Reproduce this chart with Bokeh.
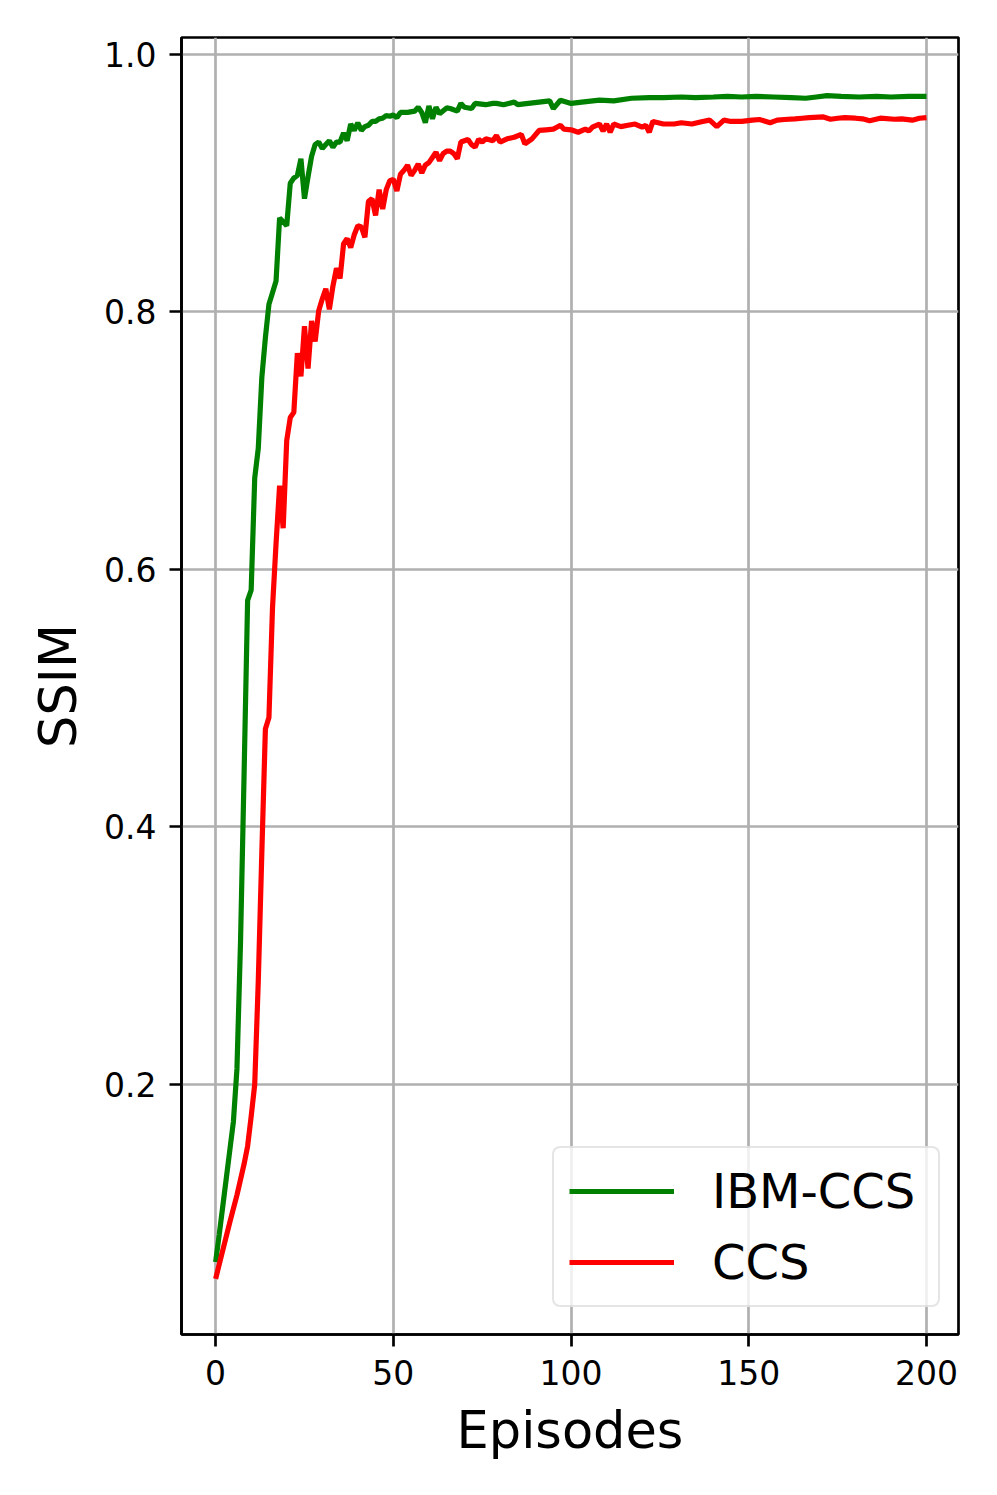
from bokeh.plotting import figure
from bokeh.models import Range1d, FixedTicker, PrintfTickFormatter, Legend, LegendItem
from bokeh.embed import file_html
from bokeh.resources import INLINE

# ---- data ----
ep_ibm = [0, 1, 2, 3, 4, 5, 6, 7, 8, 9, 10, 11, 12, 13, 14, 15, 16, 17, 18, 19,
          20, 21, 22, 23, 24, 25, 26, 27, 28, 29, 30, 31, 32, 33, 34, 35, 36, 37, 38, 39,
          40, 41, 42, 43, 44, 45, 46, 47, 48, 49, 50, 51, 52, 54, 56, 57, 58, 59, 60, 61,
          62, 63, 65, 66, 68, 69, 70, 72, 73, 76, 78, 79, 81, 84, 85, 88, 91, 94, 95, 97,
          100, 103, 108, 112, 117, 122, 126, 131, 135, 140, 144, 148, 152, 157, 162, 166,
          169, 172, 176, 181, 186, 190, 195, 200]
ssim_ibm = [0.062, 0.083, 0.105, 0.127, 0.149, 0.171, 0.212, 0.31, 0.44, 0.576, 0.584, 0.671,
            0.694, 0.749, 0.78, 0.806, 0.815, 0.824, 0.873, 0.870, 0.867, 0.900, 0.904, 0.906,
            0.919, 0.888, 0.905, 0.921, 0.930, 0.932, 0.927, 0.930, 0.933, 0.928, 0.932, 0.932,
            0.939, 0.933, 0.946, 0.941, 0.947, 0.941, 0.944, 0.945, 0.948, 0.948, 0.950, 0.9505,
            0.9525, 0.952, 0.953, 0.951, 0.955, 0.955, 0.956, 0.959, 0.955, 0.947, 0.960, 0.950,
            0.959, 0.954, 0.9585, 0.958, 0.956, 0.962, 0.959, 0.958, 0.962, 0.961, 0.962, 0.962,
            0.961, 0.963, 0.961, 0.962, 0.963, 0.964, 0.958, 0.9645, 0.962, 0.963, 0.9645, 0.964,
            0.966, 0.9665, 0.9665, 0.967, 0.9665, 0.967, 0.9675, 0.967, 0.9675, 0.967, 0.9665,
            0.966, 0.967, 0.968, 0.9675, 0.967, 0.9675, 0.967, 0.9675, 0.9675]

ep_ccs = [0, 2, 4, 6, 7, 8, 9, 10, 11, 12, 13, 14, 15, 16, 17, 18, 19, 20, 21, 22,
          23, 24, 25, 26, 27, 28, 29, 30, 31, 32, 33, 34, 35, 36, 37, 38, 39, 40, 41, 42,
          43, 44, 45, 46, 47, 48, 49, 50, 51, 52, 53, 54, 55, 56, 57, 58, 59, 60, 61, 62,
          63, 64, 65, 66, 67, 68, 69, 70, 71, 72, 73, 74, 75, 76, 78, 79, 80, 82, 84, 86,
          87, 89, 91, 93, 95, 96, 97, 98, 100, 102, 104, 105, 106, 108, 109, 110, 111, 112,
          114, 116, 118, 120, 121, 122, 123, 126, 129, 131, 134, 137, 139, 141, 143, 145,
          148, 151, 153, 156, 158, 160, 163, 165, 167, 171, 173, 175, 177, 180, 182, 184,
          187, 191, 193, 196, 198, 200]
ssim_ccs = [0.049, 0.071, 0.093, 0.114, 0.126, 0.138, 0.152, 0.175, 0.200, 0.280, 0.380, 0.476,
            0.485, 0.570, 0.620, 0.665, 0.632, 0.700, 0.718, 0.722, 0.768, 0.750, 0.789, 0.756,
            0.793, 0.777, 0.801, 0.810, 0.818, 0.802, 0.820, 0.834, 0.826, 0.853, 0.857, 0.850,
            0.860, 0.867, 0.866, 0.858, 0.886, 0.888, 0.875, 0.895, 0.880, 0.895, 0.902, 0.903,
            0.894, 0.907, 0.910, 0.914, 0.906, 0.910, 0.915, 0.908, 0.914, 0.916, 0.920, 0.924,
            0.9175, 0.923, 0.925, 0.925, 0.923, 0.919, 0.932, 0.933, 0.934, 0.930, 0.928, 0.934,
            0.932, 0.9345, 0.933, 0.937, 0.932, 0.9345, 0.9357, 0.938, 0.9305, 0.9345, 0.941,
            0.9415, 0.942, 0.9435, 0.945, 0.942, 0.9415, 0.9396, 0.942, 0.9405, 0.9435, 0.946,
            0.9405, 0.946, 0.9396, 0.946, 0.944, 0.945, 0.946, 0.9435, 0.945, 0.9396, 0.948,
            0.946, 0.946, 0.947, 0.946, 0.948, 0.949, 0.944, 0.949, 0.948, 0.948, 0.949, 0.9495,
            0.947, 0.949, 0.9495, 0.950, 0.9505, 0.951, 0.9515, 0.9497, 0.9505, 0.951, 0.9505,
            0.950, 0.9485, 0.9505, 0.9497, 0.950, 0.949, 0.9505, 0.951]

x_ticks = [0, 50, 100, 150, 200]
y_ticks = [0.2, 0.4, 0.6, 0.8, 1.0]
series_labels = ["IBM-CCS", "CCS"]
x_label = "Episodes"
y_label = "SSIM"

FONT = "DejaVu Sans"

p = figure(width=981, height=1479,
           x_range=Range1d(-9.6, 209.0), y_range=Range1d(0.0057, 1.0132),
           output_backend="svg", toolbar_location=None,
           min_border_left=181, min_border_right=23,
           min_border_top=37, min_border_bottom=145)

p.background_fill_color = "white"
p.border_fill_color = "white"
p.outline_line_color = "black"
p.outline_line_width = 2.7
p.outline_line_alpha = 1.0

for ax in (p.xaxis[0], p.yaxis[0]):
    ax.axis_line_color = "black"
    ax.axis_line_width = 2.7
    ax.major_tick_out = 12
    ax.major_tick_in = 0
    ax.major_tick_line_width = 2.7
    ax.major_tick_line_color = "black"
    ax.minor_tick_line_color = None
    ax.major_label_text_font = FONT
    ax.major_label_text_font_size = "33px"
    ax.major_label_text_color = "black"
    ax.axis_label_text_font = FONT
    ax.axis_label_text_font_size = "51px"
    ax.axis_label_text_font_style = "normal"
    ax.axis_label_text_color = "black"

p.xaxis.ticker = FixedTicker(ticks=x_ticks)
p.yaxis.ticker = FixedTicker(ticks=y_ticks)
p.xaxis.formatter = PrintfTickFormatter(format="%d")
p.yaxis.formatter = PrintfTickFormatter(format="%.1f")
p.xaxis.major_label_standoff = 13
p.yaxis.major_label_standoff = 13
p.xaxis.axis_label = x_label
p.yaxis.axis_label = y_label
p.xaxis.axis_label_standoff = 13
p.yaxis.axis_label_standoff = 13

p.xgrid.ticker = FixedTicker(ticks=x_ticks)
p.ygrid.ticker = FixedTicker(ticks=y_ticks)
for g in (p.xgrid[0], p.ygrid[0]):
    g.grid_line_color = "#b0b0b0"
    g.grid_line_width = 2.7

r1 = p.line(ep_ibm, ssim_ibm, line_color="#008000", line_width=5.2)
r2 = p.line(ep_ccs, ssim_ccs, line_color="#ff0000", line_width=5.2)

legend = Legend(items=[LegendItem(label=series_labels[0], renderers=[r1]),
                       LegendItem(label=series_labels[1], renderers=[r2])],
                location=(371, 27), orientation="vertical",
                padding=15, spacing=15, margin=0,
                glyph_width=105, glyph_height=48, label_height=48,
                label_standoff=38, label_width=211,
                label_text_font=FONT, label_text_font_size="48px",
                label_text_color="black",
                border_line_color="#cccccc", border_line_width=2.7,
                background_fill_color="white", background_fill_alpha=0.8)
if "border_radius" in Legend.properties():
    legend.border_radius = 8
p.add_layout(legend, "center")

open("out.html", "w").write(file_html(p, INLINE))
